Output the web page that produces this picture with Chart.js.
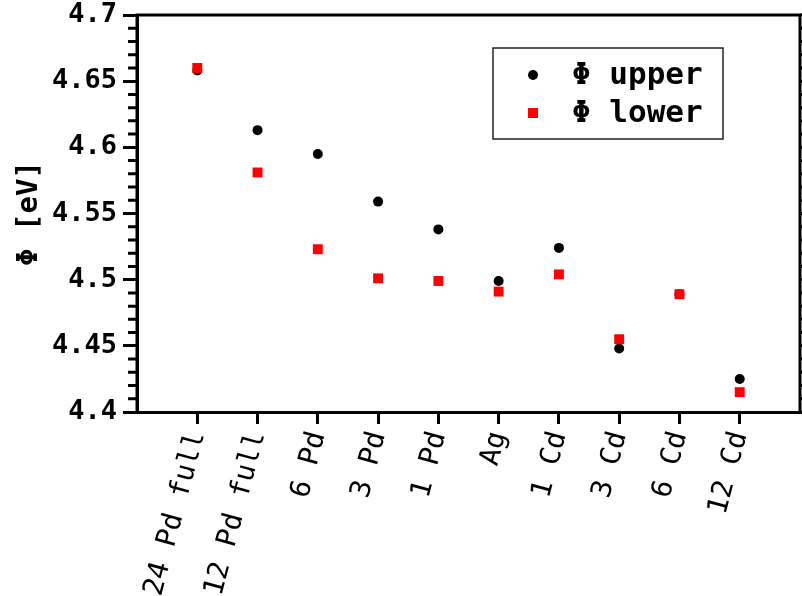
<!DOCTYPE html>
<html>
<head>
<meta charset="utf-8">
<script src="https://cdn.jsdelivr.net/npm/chart.js@4/dist/chart.umd.min.js"></script>
<style>
  body { margin: 0; background: #fff; }
  #wrap { width: 802px; height: 596px; }
</style>
</head>
<body>
<div id="wrap"><canvas id="myChart" width="802" height="596"></canvas></div>
<script>
// categories along x, and the two work function series
var systems = ["24 Pd full", "12 Pd full", "6 Pd", "3 Pd", "1 Pd", "Ag", "1 Cd", "3 Cd", "6 Cd", "12 Cd"];
var phiUpper = [4.658, 4.613, 4.595, 4.559, 4.538, 4.499, 4.524, 4.448, 4.489, 4.425];
var phiLower = [4.660, 4.581, 4.523, 4.501, 4.499, 4.491, 4.504, 4.455, 4.489, 4.415];
var yTicks = [4.4, 4.45, 4.5, 4.55, 4.6, 4.65, 4.7];
var yMinorStep = 0.01;

var mono = "'DejaVu Sans Mono', monospace";

function toPoints(arr) {
  return arr.map(function (v, i) { return { x: i, y: v }; });
}

function noPad(s) {
  s.paddingTop = 0; s.paddingBottom = 0; s.paddingLeft = 0; s.paddingRight = 0;
}

// frame, minor ticks and right-hand ticks
var framePlugin = {
  id: 'frame',
  afterDraw: function (chart) {
    var ctx = chart.ctx, a = chart.chartArea, ys = chart.scales.y;
    ctx.save();
    ctx.strokeStyle = '#000';
    ctx.lineWidth = 3;
    ctx.beginPath();
    ctx.moveTo(a.left, a.bottom);
    ctx.lineTo(a.left, a.top);
    ctx.lineTo(a.right, a.top);
    ctx.lineTo(a.right, a.bottom);
    ctx.stroke();
    ctx.beginPath();
    for (var v = ys.min; v <= ys.max + 1e-9; v += yMinorStep) {
      var y = ys.getPixelForValue(v);
      var major = Math.abs(v * 20 - Math.round(v * 20)) < 1e-6;
      var len = major ? 14 : 9;
      if (!major) {
        ctx.moveTo(a.left - len, y);
        ctx.lineTo(a.left, y);
      }
      ctx.moveTo(a.right, y);
      ctx.lineTo(a.right + len, y);
    }
    ctx.stroke();
    ctx.restore();
  }
};

// boxed legend inside the plot
var legendBox = {
  id: 'legendBox',
  afterDraw: function (chart) {
    var ctx = chart.ctx, a = chart.chartArea;
    var left = a.right - 307, top = a.top + 33, w = 230, h = 91;
    ctx.save();
    ctx.strokeStyle = '#222';
    ctx.lineWidth = 1.5;
    ctx.strokeRect(left, top, w, h);
    ctx.font = "bold 31px " + mono;
    ctx.textBaseline = 'middle';
    ctx.fillStyle = '#000';
    var items = [chart.data.datasets[1], chart.data.datasets[0]];
    items.forEach(function (ds, i) {
      var cy = top + 27 + i * 38;
      var mx = left + 40;
      ctx.fillStyle = ds.backgroundColor;
      if (ds.pointStyle === 'rect') {
        ctx.fillRect(mx - 5, cy - 5, 10, 10);
      } else {
        ctx.beginPath();
        ctx.arc(mx, cy, 5, 0, Math.PI * 2);
        ctx.fill();
      }
      ctx.fillStyle = '#000';
      ctx.fillText(ds.label, left + 79, cy + 1);
    });
    ctx.restore();
  }
};

var ctx = document.getElementById("myChart");
var myChart = new Chart(ctx, {
  type: 'scatter',
  data: {
    datasets: [{
      label: "\u03A6 lower",
      data: toPoints(phiLower),
      pointStyle: 'rect',
      pointRadius: 7,
      backgroundColor: '#ff0000',
      borderColor: '#ff0000',
      borderWidth: 0,
      order: 0
    },
    {
      label: "\u03A6 upper",
      data: toPoints(phiUpper),
      pointStyle: 'circle',
      pointRadius: 5,
      backgroundColor: '#000000',
      borderColor: '#000000',
      borderWidth: 0,
      order: 1
    }]
  },
  options: {
    responsive: false,
    animation: false,
    layout: { autoPadding: false, padding: { top: 15, right: 2, left: 0, bottom: 0 } },
    plugins: {
      legend: { display: false },
      tooltip: { enabled: false }
    },
    scales: {
      x: {
        type: 'linear',
        min: -1,
        max: 10,
        afterBuildTicks: function (s) {
          s.ticks = systems.map(function (_, i) { return { value: i }; });
        },
        afterFit: function (s) { s.height = 184; noPad(s); },
        ticks: {
          autoSkip: false,
          minRotation: 75,
          maxRotation: 75,
          padding: 4,
          color: '#000',
          font: { family: mono, size: 28 },
          callback: function (v) { return systems[v]; }
        },
        grid: { drawOnChartArea: false, tickLength: 12, lineWidth: 3, color: '#000' },
        border: { width: 3, color: '#000' }
      },
      y: {
        min: 4.4,
        max: 4.7,
        afterBuildTicks: function (s) {
          s.ticks = yTicks.map(function (v) { return { value: v }; });
        },
        afterFit: function (s) { s.width = 137; noPad(s); },
        ticks: {
          padding: 6,
          color: '#000',
          font: { family: mono, size: 27, weight: 'bold' },
          callback: function (v) { return String(+v.toFixed(2)); }
        },
        grid: { drawOnChartArea: false, tickLength: 14, lineWidth: 3, color: '#000' },
        border: { width: 3, color: '#000' },
        title: {
          display: true,
          text: "\u03A6 [eV]",
          color: '#000',
          font: { family: mono, size: 29, weight: 'bold' },
          padding: { top: 12, bottom: 0 }
        }
      }
    }
  },
  plugins: [framePlugin, legendBox]
});
</script>
</body>
</html>
